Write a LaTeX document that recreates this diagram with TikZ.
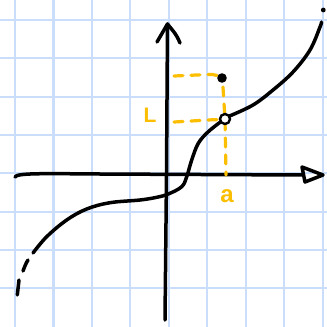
\documentclass[tikz,border=0pt]{standalone}
\usepackage{fontspec}
\newfontfamily\handfont{Liberation Sans}
\definecolor{gridblue}{RGB}{202,222,252}
\definecolor{amber}{RGB}{252,190,0}
\tikzset{
  gridline/.style={draw=gridblue, line width=2.2pt},
  ink/.style={draw=black, line width=3.5pt, line cap=round, line join=round},
  guide/.style={draw=amber, line width=3.2pt, line cap=round, dash pattern=on 9pt off 8pt},
  lbl/.style={text=amber, font=\handfont\bfseries\fontsize{21}{21}\selectfont, inner sep=0pt},
  lbla/.style={text=amber, font=\handfont\bfseries\fontsize{24}{24}\selectfont, inner sep=0pt}
}
\begin{document}
\begin{tikzpicture}[x=1pt,y=-1pt]
\useasboundingbox (0,0) rectangle (327,327);
\fill[white] (0,0) rectangle (327,327);
% grid
\foreach \i in {0,...,8} {
  \draw[gridline] ({15+38.46*\i},0) -- ({15+38.46*\i},327);
}
\foreach \j in {0,...,7} {
  \draw[gridline] (0,{20+38.33*\j}) -- (327,{20+38.33*\j});
}
% coordinates
\coordinate (xs) at (15,177);
\coordinate (xe) at (303,175);
\coordinate (ys) at (165,320);
\coordinate (ye) at (167.5,24);
\coordinate (hole) at (225,119);
\coordinate (pt) at (222,78);
% axes
\draw[ink] (xs) .. controls (17,173) and (40,173.5) .. (100,174) -- (xe);
\draw[ink] (302,167) -- (323,175) -- (305,182) -- cycle;
\draw[ink] (ys) -- (166.5,175) -- (ye);
\draw[ink] (157,42) -- (ye) .. controls (172,30) and (176,33) .. (180,43);
% orange guides
\draw[guide] (174,76) -- (208,74.5) .. controls (214,74) and (220,76) .. (pt);
\draw[guide] (pt) ++(1,9) -- (hole) -- (226,175);
\draw[guide] (174,122) -- (208,120) .. controls (214,119.5) and (218,120) .. (hole);
\node[lbl] (L) at (150,115.5) {L};
\node[lbla] (a) at (227,196) {a};
% curve
\draw[ink] (17.3,295) -- (19,280);
\draw[ink] (23,271) .. controls (24.5,267) and (26,263) .. (28,260);
\draw[ink] plot[smooth, tension=0.6] coordinates {(33,253) (46.7,236.7) (66.7,220) (86.7,209) (110,202.7) (140,200) (156.7,197.3) (168.3,194) (181.7,186.7) (186.7,176.7) (191.7,160) (198.3,143.3) (208.3,131.7) (220.5,122)};
\draw[ink] plot[smooth, tension=0.6] coordinates {(229.5,116) (253,105) (273,90) (293,72) (310,50) (320,27) (321.5,22)};
\fill (323.3,10) circle (2.4);
% points
\draw[black, line width=2.4pt, fill=white] (hole) circle (5);
\fill[black] (pt) circle (4.8);
\end{tikzpicture}
\end{document}
